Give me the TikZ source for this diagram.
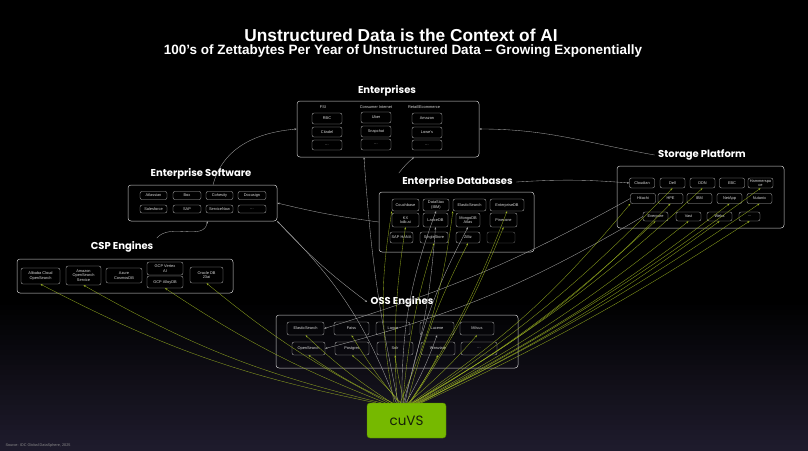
\documentclass[tikz,border=0pt]{standalone}
\usepackage{fontspec}
\setmainfont{Liberation Sans}
\newfontfamily\hfont{Poppins}
\usetikzlibrary{arrows.meta,calc}
\definecolor{ylw}{RGB}{165,190,35}
\definecolor{lnk}{RGB}{165,165,165}
\definecolor{nvg}{RGB}{118,185,0}
\definecolor{nvgd}{RGB}{85,135,0}
\definecolor{cutxt}{RGB}{22,32,10}
\definecolor{bgbot}{RGB}{30,27,44}
\tikzset{
 grp/.style={draw=white!80!black, rounded corners=3pt, line width=0.5pt, inner sep=0pt},
 ibox/.style={draw=white!70!black, rounded corners=2pt, line width=0.35pt, inner sep=0pt, align=center, text=white!85!black, font=\fontsize{3.9}{4.4}\selectfont},
 lbl/.style={text=white!85!black, font=\fontsize{3.9}{4.4}\selectfont},
 head/.style={text=white, font=\hfont\bfseries\fontsize{10}{12}\selectfont},
 glink/.style={draw=lnk, line width=0.35pt, -{Stealth[length=2.4pt,width=1.8pt]}},
 ylink/.style={draw=ylw, line width=0.35pt, draw opacity=0.85, -{Stealth[length=2.4pt,width=1.8pt]}},
 cubox/.style={draw=nvgd, fill=nvg, rounded corners=3pt, minimum width=79pt, minimum height=35pt},
 cutext/.style={text=cutxt, font=\hfont\fontsize{13.5}{15}\selectfont, execute at begin node={\pgfsetfillcolor{cutxt}\pgfsetstrokecolor{cutxt}}},
}
\newcommand\ibx[6]{\node[ibox,minimum width=#4pt,minimum height=#5pt] (#1) at (#2,#3) {#6};}
\begin{document}
\begin{tikzpicture}[x=1pt,y=-1pt]
\useasboundingbox (0,0) rectangle (808,450);
\fill[black] (0,0) rectangle (808,450);
\foreach \k in {0,...,29}{
  \pgfmathsetmacro\pc{\k*100/29}
  \fill[bgbot!\pc!black] (0,{300+\k*5}) rectangle (808,{306+\k*5});
}

% cuVS
\node[cubox] (cuvs) at (406.5,420.5) {};
\node[cutext] (cuvslabel) at (cuvs.center) {cuVS};

% titles
\node[text=white, font=\bfseries\fontsize{17.3}{20}\selectfont] (title) at (401,35) {Unstructured Data is the Context of AI};
\node[text=white, font=\bfseries\fontsize{13.5}{16}\selectfont] (sub) at (403,51) {100’s of Zettabytes Per Year of Unstructured Data – Growing Exponentially};
\node[anchor=west, text=white!55!black, font=\fontsize{3.8}{4.2}\selectfont] (src) at (2,446) {Source: IDC Global DataSphere, 2025};

% Enterprises
\node[head] (hent) at (387,91) {Enterprises};
\node[grp, minimum width=182pt, minimum height=56pt] (ent) at (388,129) {};
\node[lbl] (lfsi) at (323,107) {FSI};
\node[lbl] (lci) at (376,107) {Consumer Internet};
\node[lbl] (lre) at (424,107) {Retail/Ecommerce};
\ibx{e11}{327}{118.5}{30}{11}{RBC}
\ibx{e12}{327}{132}{30}{10}{Citadel}
\ibx{e13}{327}{145}{30}{10}{...}
\ibx{e21}{376}{117.5}{30}{11}{Uber}
\ibx{e22}{376}{131.5}{30}{11}{Snapchat}
\ibx{e23}{376}{144.5}{30}{11}{...}
\ibx{e31}{427}{118.5}{30}{11}{Amazon}
\ibx{e32}{427}{132.5}{30}{11}{Lowe's}
\ibx{e33}{427}{145}{30}{10}{...}

% Enterprise Software
\node[head] (hesw) at (201,174) {Enterprise Software};
\node[grp, minimum width=149pt, minimum height=36pt] (esw) at (202.5,203) {};
\ibx{w11}{153.5}{195.5}{27}{8}{Atlassian}
\ibx{w12}{187}{195.5}{28}{8}{Box}
\ibx{w13}{219.5}{195.5}{27}{8}{Cohesity}
\ibx{w14}{252}{195.5}{28}{8}{Docusign}
\ibx{w21}{153.5}{209}{27}{8}{Salesforce}
\ibx{w22}{187}{209}{28}{8}{SAP}
\ibx{w23}{219.5}{209}{27}{8}{ServiceNow}
\ibx{w24}{252}{209}{28}{8}{...}

% Enterprise Databases
\node[head] (hedb) at (457.5,182) {Enterprise Databases};
\node[grp, minimum width=155pt, minimum height=60pt] (edb) at (456.5,222) {};
\ibx{d11}{405.5}{205}{27}{12}{Couchbase}
\ibx{d12}{436}{205}{26}{12}{DataStax\\(IBM)}
\ibx{d13}{469.5}{205}{33}{12}{ElasticSearch}
\ibx{d14}{507}{205}{34}{12}{EnterpriseDB}
\ibx{d21}{405.5}{220}{27}{14}{KX\\kdb.ai}
\ibx{d22}{435.5}{220}{25}{14}{LanceDB}
\ibx{d23}{468}{220}{24}{14}{MongoDB\\Atlas}
\ibx{d24}{503.5}{220}{27}{14}{Pinecone}
\ibx{d31}{401.5}{237.5}{23}{11}{SAP HANA}
\ibx{d32}{434}{237.5}{28}{11}{SingleStore}
\ibx{d33}{468}{237.5}{24}{11}{Zilliz}
\node[ibox, draw=white!40!black, minimum width=28pt, minimum height=11pt] (d34) at (501,237.5) {};

% Storage Platform
\node[head] (hsto) at (702,155) {Storage Platform};
\node[grp, minimum width=167pt, minimum height=62pt] (sto) at (700.5,197) {};
\ibx{s11}{642}{183}{25}{10}{Cloudian}
\ibx{s12}{672.5}{183}{25}{10}{Dell}
\ibx{s13}{702.5}{183}{25}{10}{DDN}
\ibx{s14}{732}{183}{25}{10}{EBC}
\ibx{s15}{760.5}{183}{25}{10}{Hammerspa\\ce}
\ibx{s21}{643}{198.5}{25}{10}{Hitachi}
\ibx{s22}{670.5}{198.5}{25}{10}{HPE}
\ibx{s23}{699.5}{198.5}{25}{10}{IBM}
\ibx{s24}{729.5}{198.5}{25}{10}{NetApp}
\ibx{s25}{759.5}{198.5}{25}{10}{Nutanix}
\ibx{s31}{655.5}{216.5}{25}{9}{Everpure}
\ibx{s32}{688.5}{216.5}{25}{9}{Vast}
\ibx{s33}{719.5}{216.5}{25}{9}{Weka}
\ibx{s34}{749.5}{216.5}{21}{9}{...}

% CSP Engines
\node[head] (hcsp) at (122,247) {CSP Engines};
\node[grp, minimum width=216pt, minimum height=34pt] (csp) at (125,276) {};
\ibx{c1}{40.5}{276}{39}{16}{Alibaba Cloud\\OpenSearch}
\ibx{c2}{83.5}{275.5}{35}{19}{Amazon\\OpenSearch\\Service}
\ibx{c3}{124}{275.5}{36}{15}{Azure\\CosmosDB}
\ibx{c4}{165}{268.5}{36}{13}{GCP Vertex\\AI}
\ibx{c5}{165}{282}{36}{12}{GCP AlloyDB}
\ibx{c6}{206.5}{275}{33}{16}{Oracle DB\\23ai}

% OSS Engines
\node[head] (hoss) at (402,302) {OSS Engines};
\node[grp, minimum width=242pt, minimum height=53pt] (oss) at (397,341.5) {};
\ibx{o11}{305.5}{328.5}{37}{13}{ElasticSearch}
\ibx{o12}{351.5}{328.5}{35}{13}{Faiss}
\ibx{o13}{393}{328.5}{34}{13}{Lance}
\ibx{o14}{437}{328.5}{34}{13}{Lucene}
\ibx{o15}{477}{328.5}{34}{13}{Milvus}
\ibx{o21}{308.5}{348.5}{33}{13}{OpenSearch}
\ibx{o22}{352}{348.5}{34}{13}{Postgres}
\ibx{o23}{395}{348.5}{36}{13}{Solr}
\ibx{o24}{438}{348.5}{34}{13}{Weaviate}
\ibx{o25}{479}{348.5}{36}{13}{...}

% ---- gray connectors
\draw[glink] (esw.60) to[out=75,in=185] (ent.west);
\draw[glink] (hsto.west) to[out=170,in=0] (ent.east);
\draw[glink] (cuvs.115) to[bend left=4] ($(ent.south)+(-24,0)$);
\draw[glink] (hedb.north west) to[bend left=6] ($(ent.south)+(26,0)$);
\draw[glink] (edb.west) to[bend left=3] (esw.east);
\draw[glink] (hcsp.north east) to[out=50,in=260] ($(esw.south)+(5,0)$);
\draw[glink] (esw.south east) to[bend right=5] (hoss.west);
\draw[glink] (hedb.east) to[bend left=4] (s11.west);
\draw[glink] (s21.west) to[bend left=6] (o11.east);
\draw[glink] (s31.west) to[bend left=8] (o21.east);
\draw[glink] (cuvs.100) to[bend right=6] (d22.south);
\draw[glink] (cuvs.95) to[bend left=8] (d23.south);
\draw[glink] (cuvs.105) to[bend left=10] (d12.south);
\draw[glink] (cuvs.92) to[bend right=5] (o14.south);
\draw[glink] (cuvs.120) to[bend right=12] (esw.south east);

% ---- green connectors from cuVS
\draw[ylink] (cuvs.150) to[bend left=8] (c1.south);
\draw[ylink] (cuvs.145) to[bend left=8] (c2.south);
\draw[ylink] (cuvs.140) to[bend left=6] (c5.south);
\draw[ylink] (cuvs.135) to[bend left=6] (c6.south);
\draw[ylink] (cuvs.125) to[bend left=10] (d11.south west);
\draw[ylink] (cuvs.110) to[bend right=8] (d13.south west);
\draw[ylink] (cuvs.80) to[bend right=6] (d14.south);
\draw[ylink] (cuvs.78) to[bend right=6] (d24.south);
\draw[ylink] (cuvs.102) to[bend left=6] (d32.south);
\draw[ylink] (cuvs.88) to[bend left=6] (d33.south);
\draw[ylink] (cuvs.118) to[bend left=6] (d21.south);
\draw[ylink] (cuvs.75) to[bend right=8] (s21.south west);
\draw[ylink] (cuvs.72) to[bend right=8] (s22.south);
\draw[ylink] (cuvs.70) to[bend right=6] (s13.south);
\draw[ylink] (cuvs.68) to[bend right=6] (s12.south);
\draw[ylink] (cuvs.65) to[bend right=6] (s31.south);
\draw[ylink] (cuvs.62) to[bend right=5] (s32.south);
\draw[ylink] (cuvs.60) to[bend right=5] (s24.south);
\draw[ylink] (cuvs.57) to[bend right=5] (s33.south);
\draw[ylink] (cuvs.55) to[bend right=4] (s25.south);
\draw[ylink] (cuvs.52) to[bend right=4] (s15.south);
\draw[ylink] (cuvs.50) to[bend right=4] (s34.south);
\draw[ylink] (cuvs.130) to[bend left=5] (o11.south);
\draw[ylink] (cuvs.128) to[bend left=5] (o21.south);
\draw[ylink] (cuvs.112) to[bend left=4] (o12.south);
\draw[ylink] (cuvs.108) to[bend right=4] (o22.south);
\draw[ylink] (cuvs.85) to[bend right=4] (o15.south);
\draw[ylink] (cuvs.82) to[bend right=4] (o24.south);
\draw[ylink] (cuvs.97) to[bend left=3] (o23.south);
\end{tikzpicture}
\end{document}
